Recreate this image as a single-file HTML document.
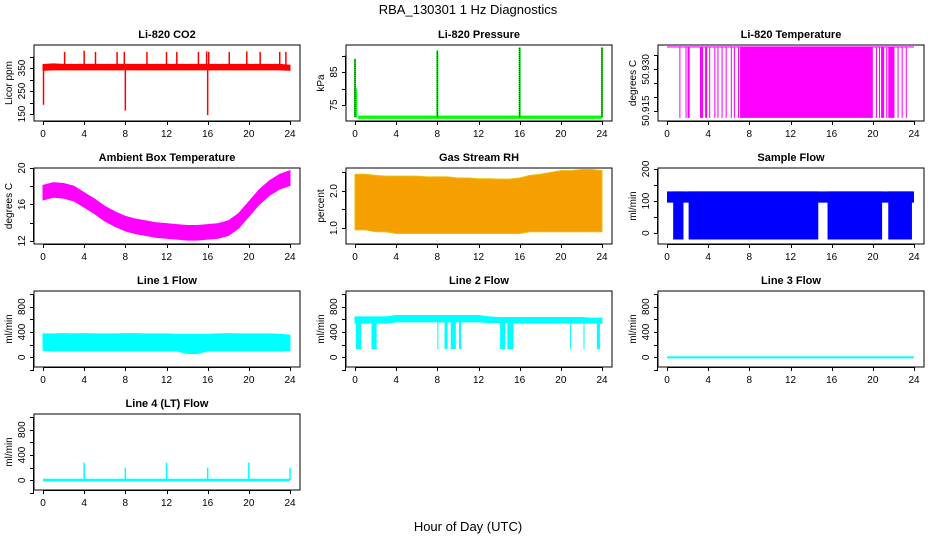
<!DOCTYPE html>
<html><head><meta charset="utf-8"><style>
html,body{margin:0;padding:0;background:#fff;}
svg{display:block;font-family:"Liberation Sans",Arial,sans-serif;}
.t{font-size:11px;font-weight:bold;text-anchor:middle;}
.tk{font-size:10px;text-anchor:middle;}
</style></head><body>
<svg id="c" width="936" height="540" viewBox="0 0 936 540" xmlns="http://www.w3.org/2000/svg">
<text x="468" y="14" text-anchor="middle" font-size="13">RBA_130301  1 Hz Diagnostics</text>
<text x="468" y="531" text-anchor="middle" font-size="13">Hour of Day (UTC)</text>
</svg>
<script>
// ---- data ----
const hours = [0,1,2,3,4,5,6,7,8,9,10,11,12,13,14,15,16,17,18,19,20,21,22,23,24];
const xTicks = [0,4,8,12,16,20,24];
// CO2
const co2Low  = [340,342,342,342,342,342,342,342,342,342,342,342,342,342,342,342,342,342,342,342,342,342,342,342,340];
const co2High = [365,368,366,366,366,366,366,366,366,366,366,366,366,366,366,366,366,366,366,366,366,366,366,366,362];
const co2SpikeHours = [2.1,4.0,5.1,7.2,7.9,10.1,12.0,13.0,15.1,15.9,16.1,18.1,19.8,21.1,23.0,23.6];
const co2SpikeVals  = [420,425,420,420,420,420,420,420,420,422,420,420,422,420,420,420];
const co2DipHours = [0.05,8.0,16.0];
const co2DipVals  = [190,165,145];
// Pressure
const presBase = 71.3;
const presSpikeHours = [0.0,8.0,16.0,24.0];
const presSpikeVals  = [89,91.5,92.5,92.5];
// Li-820 temperature (high state segments)
const tempHigh = 50.9381, tempLow = 50.9124;
const tempSegStart = [1.2,1.8,2.0,3.2,3.7,4.1,4.6,4.9,5.3,5.7,6.2,6.5,6.9,7.1,20.3,20.6,20.8,21.3,21.5,22.4,22.8,23.2];
const tempSegEnd   = [1.3,1.9,2.2,3.5,3.9,4.2,4.7,5.0,5.4,5.8,6.3,6.6,7.0,20.0,20.4,20.7,21.1,21.4,22.1,22.5,22.9,23.3];
// Ambient box temperature
const ambMid = [17.3,17.6,17.5,17.2,16.5,15.8,15.0,14.4,13.9,13.6,13.4,13.2,13.1,13.0,12.9,12.9,13.0,13.1,13.4,14.2,15.5,16.8,17.8,18.5,18.9];
const ambHalf = 0.8;
// Gas stream RH
const rhLow  = [0.95,0.95,0.9,0.9,0.85,0.85,0.85,0.85,0.85,0.85,0.85,0.85,0.85,0.85,0.85,0.85,0.85,0.9,0.9,0.9,0.9,0.9,0.9,0.9,0.9];
const rhHigh = [2.45,2.45,2.42,2.4,2.4,2.4,2.4,2.38,2.38,2.38,2.35,2.35,2.33,2.33,2.32,2.32,2.35,2.42,2.45,2.5,2.55,2.55,2.58,2.58,2.55];
// Sample flow
const sfLow = 95, sfHigh = 130, sfDrop = -20;
const sfDropStart = [0.6,2.1,15.6,21.5];
const sfDropEnd   = [1.6,14.7,20.9,23.8];
// Line 1 flow
const l1Low  = [110,100,100,100,100,100,100,100,100,100,100,100,100,100,60,60,100,100,100,100,100,100,100,100,110];
const l1High = [370,370,375,370,375,370,370,370,375,375,370,370,370,365,365,365,365,370,375,370,370,370,370,365,350];
// Line 2 flow
const l2Low  = [540,540,540,540,560,560,560,560,560,560,560,560,560,550,550,550,540,540,540,540,540,540,540,540,540];
const l2High = [640,640,640,640,660,660,660,660,660,660,660,660,660,640,630,630,630,630,630,630,630,630,630,620,620];
const l2DropStart = [0.1,1.6,8.0,8.7,9.3,10.1,14.1,14.8,20.9,22.2,23.5];
const l2DropEnd   = [0.6,2.1,8.1,9.0,9.8,10.3,14.6,15.4,21.0,22.3,23.8];
const l2DropVal = 130;
// Line 3 flow
const l3Val = 0;
// Line 4 flow
const l4Base = 5;
const l4SpikeHours = [4.0,8.0,12.0,16.0,20.0,24.0];
const l4SpikeVals  = [280,200,280,200,280,200];

// ---- layout ----
const svg = document.getElementById('c');
const NS = 'http://www.w3.org/2000/svg';
function mk(tag, attrs, parent){ const e=document.createElementNS(NS,tag); for(const k in attrs) e.setAttribute(k,attrs[k]); (parent||svg).appendChild(e); return e; }
const colL=[34,346,658], rowT=[45,168,291,414], W=266, H=76;

function panel(key,col,row,title,ylab,dom,ticks,labels){
  const L=colL[col], T=rowT[row];
  const g=mk('g',{});
  
  
  const xs=h=>L+9+h*(247/24);
  const ys=v=>T+H-(v-dom[0])/(dom[1]-dom[0])*H;
  const plot=mk('g',{},g);
  
  
  const box=mk('rect',{x:L,y:T,width:W,height:H,fill:'none',stroke:'#000','stroke-width':1},g);
  
  
  const tt=mk('text',{x:L+W/2,y:T-7,class:'t'},g); tt.textContent=title;
  
  
  const xa=mk('g',{},g);
  
  
  mk('line',{x1:xs(0),x2:xs(24),y1:T+H+0.5,y2:T+H+0.5,stroke:'#000'},xa);
  xTicks.forEach(h=>{
    mk('line',{x1:Math.round(xs(h))+0.5,x2:Math.round(xs(h))+0.5,y1:T+H,y2:T+H+4,stroke:'#000'},xa);
    const t=mk('text',{x:xs(h),y:T+H+16,class:'tk'},xa); t.textContent=h;
    
    
  });
  const ya=mk('g',{},g);
  
  
  const yt=ticks.filter(v=>ys(v)>=T-3&&ys(v)<=T+H+3);
  mk('line',{x1:L-0.5,x2:L-0.5,y1:ys(yt[0]),y2:ys(yt[yt.length-1]),stroke:'#000'},ya);
  yt.forEach(v=>{ mk('line',{x1:L-4,x2:L,y1:Math.round(ys(v))+0.5,y2:Math.round(ys(v))+0.5,stroke:'#000'},ya); });
  labels.forEach(v=>{
    const y=ys(v); const t=mk('text',{x:0,y:0,class:'tk',transform:`translate(${L-9},${y}) rotate(-90)`},ya);
    t.textContent=v;
    
    
  });
  const yl=mk('text',{x:0,y:0,class:'tk',transform:`translate(${L-22},${T+H/2}) rotate(-90)`},g);
  yl.textContent=ylab;
  
  
  return {xs,ys,plot};
}
function band(p,low,high,fill){
  let d='M'+hours.map((h,i)=>p.xs(h)+','+p.ys(high[i])).join('L');
  for(let i=hours.length-1;i>=0;i--) d+='L'+p.xs(hours[i])+','+p.ys(low[i]);
  return mk('path',{d:d+'Z',fill:fill,stroke:fill,'stroke-width':1},p.plot);
}
function vseg(p,h,v1,v2,col,w){ return mk('line',{x1:p.xs(h),x2:p.xs(h),y1:p.ys(v1),y2:p.ys(v2),stroke:col,'stroke-width':w||1.2},p.plot); }
function rseg(p,h1,h2,v1,v2,col){ return mk('rect',{x:p.xs(h1),y:p.ys(v2),width:Math.max(1,p.xs(h2)-p.xs(h1)),height:p.ys(v1)-p.ys(v2),fill:col},p.plot); }

// CO2
let p=panel('co2',0,0,'Li-820 CO2','Licor ppm',[119.6,450],[150,200,250,300,350,400],[150,250,350]);
let e=band(p,co2Low,co2High,'#ff0000');  
co2SpikeHours.forEach((h,i)=>{ e=vseg(p,h,350,co2SpikeVals[i],'#ff0000',1.5);   });
co2DipHours.forEach((h,i)=>{ e=vseg(p,h,350,co2DipVals[i],'#ff0000',1.5);   });

// Pressure
p=panel('pressure',1,0,'Li-820 Pressure','kPa',[70.15,93.2],[75,80,85,90],[75,85]);
e=rseg(p,0.3,24,presBase-0.5,presBase+0.5,'#00ff00');  
e=vseg(p,0.1,presBase,80,'#00ff00',2);  
presSpikeHours.forEach((h,i)=>{ e=vseg(p,h,presBase,presSpikeVals[i],'#00ff00',2);  
  e=vseg(p,h,presBase,presSpikeVals[i],'#000',1); e.setAttribute('stroke-dasharray','1,1');   });

// Li-820 temperature
p=panel('li820-temp',2,0,'Li-820 Temperature','degrees C',[50.91127,50.9388],[50.915,50.92,50.925,50.93,50.935],['50.915','50.930']);
e=mk('line',{x1:p.xs(0),x2:p.xs(24),y1:p.ys(tempHigh),y2:p.ys(tempHigh),stroke:'#ff00ff','stroke-width':1.2},p.plot);  
tempSegStart.forEach((s,i)=>{ e=rseg(p,s,tempSegEnd[i],tempLow,tempHigh,'#ff00ff');   });

// Ambient
p=panel('ambient',0,1,'Ambient Box Temperature','degrees C',[11.67,20],[12,14,16,18,20],[12,16,20]);
e=band(p,ambMid.map(v=>v-ambHalf),ambMid.map(v=>v+ambHalf),'#ff00ff');  

// RH
p=panel('rh',1,1,'Gas Stream RH','percent',[0.568,2.62],[1,1.5,2,2.5],['1.0','2.0']);
e=band(p,rhLow,rhHigh,'#f5a000'); e.setAttribute('stroke','#e8c000');  

// Sample flow
p=panel('sample-flow',2,1,'Sample Flow','ml/min',[-34,203],[0,50,100,150,200],[0,100,200]);
e=rseg(p,0,24,sfLow,sfHigh,'#0000ff');  
sfDropStart.forEach((s,i)=>{ e=rseg(p,s,sfDropEnd[i],sfDrop,sfHigh,'#0000ff');   });

const lt=[-200,0,200,400,600,800,1000], ll=[0,400,800];
// Line 1
p=panel('line1',0,2,'Line 1 Flow','ml/min',[-153,1048],lt,ll);
e=band(p,l1Low,l1High,'#00ffff');  
// Line 2
p=panel('line2',1,2,'Line 2 Flow','ml/min',[-153,1048],lt,ll);
e=band(p,l2Low,l2High,'#00ffff');  
l2DropStart.forEach((s,i)=>{ e=rseg(p,s,l2DropEnd[i],l2DropVal,600,'#00ffff');   });
// Line 3
p=panel('line3',2,2,'Line 3 Flow','ml/min',[-153,1048],lt,ll);
e=mk('line',{x1:p.xs(0),x2:p.xs(24),y1:p.ys(l3Val),y2:p.ys(l3Val),stroke:'#00ffff','stroke-width':2},p.plot);  
// Line 4
p=panel('line4',0,3,'Line 4 (LT) Flow','ml/min',[-153,1048],lt,ll);
e=mk('line',{x1:p.xs(0),x2:p.xs(24),y1:p.ys(l4Base),y2:p.ys(l4Base),stroke:'#00ffff','stroke-width':2.5},p.plot);  
l4SpikeHours.forEach((h,i)=>{ e=vseg(p,h,l4Base,l4SpikeVals[i],'#00ffff',1.5);   });
</script>
</body></html>
